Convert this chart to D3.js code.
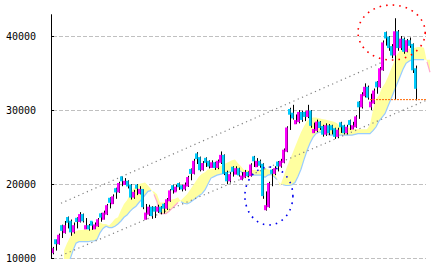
<!DOCTYPE html>
<html>
<head>
<meta charset="utf-8">
<script src="https://cdn.jsdelivr.net/npm/d3@7"></script>
<style>
html,body{margin:0;padding:0;background:#fff;}
svg{display:block;}
</style>
</head>
<body>
<svg id="chart" width="434" height="272"></svg>
<script>
// ---- data ----
const yTicks = [10000, 20000, 30000, 40000];
const opens = [
10800,12400,12000,14300,13500,15400,14900,13600,15300,15000,
15800,14000,14300,14900,14000,14400,15900,15300,16000,18000,
17400,19300,19000,20900,20000,20300,19800,18300,19800,18800,
19200,15300,16000,16800,16800,16400,16800,17200,16800,17800,
19700,19000,20000,19700,19400,19800,21900,21500,24000,23500,
22000,23400,23000,22300,22800,22300,23000,23800,21500,20500,
22200,21400,22000,20700,21000,21500,21200,23600,22400,23000,
22600,16600,17000,21800,21500,22900,22500,23000,24500,30000,
29500,28200,28500,29600,29600,29200,29800,27000,27300,28300,
27700,26800,27800,27800,27400,26500,28200,27800,27000,28500,
27500,27800,31000,30500,32000,33000,30500,31000,33700,33200,
35500,40400,39800,38500,37500,40500,38500,39500,38000,39300,
38800,35500];
const closes = [
11200,12000,13000,13800,14300,14900,13600,14300,15000,15800,
15100,14300,14000,14500,14400,15100,15600,16000,17000,17600,
18200,19000,20000,20500,20300,19800,18300,18800,19500,19200,
17000,16000,16800,15800,16400,16800,16300,16800,17800,19000,
19300,19500,19700,19400,19800,20800,21500,23000,23500,22000,
22700,23000,22500,22800,22300,23000,23800,21500,20500,21200,
21800,22000,21300,21000,21500,21200,22500,23200,23000,22600,
18500,17000,20000,21500,22000,22500,23000,24500,27500,29500,
29000,28500,29600,28800,29200,29800,28000,27300,28300,27700,
26800,27800,27000,27400,26500,27200,27800,27000,27600,28100,
27800,29000,30500,32000,33000,31800,31000,32500,33200,35500,
39000,39800,38500,37500,40500,38500,39500,38000,39300,38800,
35500,33000];
const highs = [
11500,12500,13300,14500,15000,15600,15200,14800,15500,16200,
16000,15400,14600,14900,14800,15400,16100,16400,17300,18200,
18600,19500,20300,21000,20800,20500,20000,19200,20000,19700,
19300,17300,17200,17000,17000,17200,17000,17400,18100,19300,
19900,19900,20200,19900,20200,21100,22100,23400,24300,23700,
23100,23600,23200,23200,23000,23300,24400,24000,21800,21600,
22400,22400,22200,21600,21900,21700,22800,23800,23500,23300,
22800,19000,20300,22000,22400,23100,23400,24800,27800,30300,
30700,29400,30000,29900,29800,30700,30000,28300,28700,28500,
28000,28200,28100,28000,27600,27600,28400,28000,28000,28700,
28400,29300,31200,32400,33600,33300,32200,32900,33900,35800,
39400,40600,40000,38900,42400,40800,40000,39800,39600,39800,
39000,36000];
const lows = [
10500,11000,11800,12700,13300,14000,13000,13300,14000,14800,
14800,13900,13700,13800,13900,14200,14900,15200,15800,16700,
17300,18000,18800,19700,19900,19400,17900,18000,18500,18600,
16600,15200,15700,15300,15400,16100,15900,16000,16500,17600,
18700,19000,19200,19000,19100,19600,20500,21300,22700,21700,
21800,22300,22100,22200,21900,22000,22700,21200,20000,20200,
21000,21300,21000,20500,20800,20900,21000,22300,22300,22200,
18000,16400,16800,19700,21200,21700,22200,22800,24300,27300,
28700,28100,28200,28400,28500,28900,27600,26900,27000,27300,
26400,26500,26600,26700,26100,26200,26900,26700,26700,27300,
27400,27600,28800,30200,31700,31400,30000,30800,32200,33000,
35300,38700,38000,37000,31400,38000,38100,37600,37800,38400,
35000,31300];

// Ichimoku cloud spans, starting at bar index 4, extending past the last bar
const spanStart = 4;
const spanA = [
11000,12000,12800,13400,13600,13800,13800,13900,13800,13900,
14200,14600,14800,14600,14600,14400,14800,15300,15500,16500,
17300,17800,18600,19300,19800,20000,20100,20200,19800,19300,
18600,17600,16000,16000,16000,16300,16700,17100,17500,17800,
18200,18600,19200,19800,20400,21000,21400,21600,22000,22000,
22100,22200,22400,22600,22800,23000,23200,23300,22800,22400,
21900,21900,21900,21900,21900,21900,22000,22200,22000,21800,
21500,20800,19700,20800,22000,23000,24000,25000,26000,27000,
27800,28500,28800,29000,29000,28900,28800,28700,28600,28500,
28400,28200,27800,27800,27700,27600,27500,27400,27400,27400,
27400,27400,28000,30000,31500,32000,33000,33600,34500,35500,
36500,37500,38000,38200,38200,38300,38300,38400,38500,38500,
38400,36500,35100];
const spanB = [
9000,9300,9800,11000,12000,12200,12200,12200,12200,12300,
12300,12500,13400,14000,14300,14100,14100,14300,14600,15000,
15500,15800,16300,16700,17000,17500,18000,18500,19000,19100,
19000,18600,17500,17500,17600,17800,17900,18000,18200,17600,
17400,17300,17500,17800,18100,18400,18700,19200,20000,20800,
21000,21200,21300,21400,21500,21600,21700,21800,21800,21700,
21200,21200,21200,21200,21200,21200,21200,20900,21200,21300,
21000,20600,20100,19900,19800,19800,19900,20200,21000,22000,
23300,24500,25500,26300,26800,27000,27000,27000,26700,26600,
26600,26600,26600,26600,26600,26600,26600,26700,26800,26800,
26800,26800,26800,27200,27700,28500,29000,29500,30500,31500,
32500,33500,34500,35500,36300,36600,36800,36800,36800,36800,
36800,36800,36800];

// annotations (bar index, price)
const upperTrend = [[3, 17400], [110, 36450]];
const lowerTrend = [[3, 10320], [125, 31350]];
const supportLine = [[106, 31400], [125, 31400]];
const redCircle = {i: 113.2, v: 40470, ri: 11.2, rv: 3720};
const blueCircle = {i: 72.3, v: 18380, ri: 8, rv: 3920};

// ---- chart ----
const svg = d3.select("#chart");
const x = d3.scaleLinear().domain([0, 126]).range([52, 430]);
const y = d3.scaleLinear().domain([10000, 43000]).range([258, 258 - 33000 * 0.0074]);

svg.append("defs").append("clipPath").attr("id", "plot")
  .append("rect").attr("x", 52).attr("y", 10).attr("width", 382).attr("height", 249);

// grid
svg.append("g").selectAll("line").data(yTicks).join("line")
  .attr("x1", 53).attr("x2", 426)
  .attr("y1", d => Math.round(y(d)) + 0.5).attr("y2", d => Math.round(y(d)) + 0.5)
  .attr("stroke", "#c0c0c0").attr("stroke-dasharray", "4,2");

// cloud
const cloud = spanA.map((a, k) => ({i: spanStart + k, A: a, B: spanB[k]}));
const plot = svg.append("g").attr("clip-path", "url(#plot)");
plot.append("path").datum(cloud)
  .attr("d", d3.area().x(d => x(d.i)).y0(d => y(d.B)).y1(d => y(d.A)))
  .attr("fill", "#ffffa0");
plot.append("path").datum(cloud)
  .attr("d", d3.line().defined(d => d.B <= d.A).x(d => x(d.i)).y(d => y(d.B)))
  .attr("fill", "none").attr("stroke", "#99ccff").attr("stroke-width", 1.2);
plot.append("path").datum(cloud)
  .attr("d", d3.line().defined(d => d.A < d.B).x(d => x(d.i)).y(d => y(d.A)))
  .attr("fill", "none").attr("stroke", "#ffaacc").attr("stroke-width", 1.2);

// trend lines
const tl = d3.line().x(d => x(d[0])).y(d => y(d[1]));
[upperTrend, lowerTrend].forEach(t => {
  plot.append("path").datum(t).attr("d", tl)
    .attr("fill", "none").attr("stroke", "#808080").attr("stroke-width", 1.2)
    .attr("stroke-dasharray", "1.2,3.5");
});

// candles
const bars = opens.map((o, i) => ({i, o, c: closes[i], h: highs[i], l: lows[i]}));
const cg = plot.append("g");
cg.selectAll("line").data(bars).join("line")
  .attr("x1", d => Math.round(x(d.i)) + 1.5).attr("x2", d => Math.round(x(d.i)) + 1.5)
  .attr("y1", d => y(d.h)).attr("y2", d => y(d.l))
  .attr("stroke", "#000").attr("stroke-width", 1);
cg.selectAll("rect").data(bars).join("rect")
  .attr("x", d => Math.round(x(d.i)) - 1)
  .attr("width", 2.6)
  .attr("y", d => y(Math.max(d.o, d.c)) - 1)
  .attr("height", d => Math.max(2, Math.abs(y(d.o) - y(d.c)) + 2))
  .attr("fill", d => d.c >= d.o ? "#ff00ff" : "#00ccff");

// support line
svg.append("path").datum(supportLine).attr("d", tl)
  .attr("fill", "none").attr("stroke", "#ff6600").attr("stroke-width", 1)
  .attr("stroke-dasharray", "2,1");

// circles
[[redCircle, "#ff0000"], [blueCircle, "#0000ee"]].forEach(([c, col]) => {
  svg.append("ellipse")
    .attr("cx", x(c.i)).attr("cy", y(c.v))
    .attr("rx", x(c.i + c.ri) - x(c.i)).attr("ry", y(c.v) - y(c.v + c.rv))
    .attr("fill", "none").attr("stroke", col).attr("stroke-width", 1.6)
    .attr("stroke-dasharray", "1.6,5");
});

// axis
const axis = d3.axisLeft(y).tickValues(yTicks).tickSize(-3).tickSizeOuter(0).tickPadding(15)
  .tickFormat(d3.format("d"));
const ag = svg.append("g").attr("transform", "translate(51,0)").call(axis);
ag.select(".domain").attr("stroke", "#000");
ag.selectAll(".tick line").attr("stroke", "#000");
ag.selectAll("text").attr("font-family", "DejaVu Sans Mono").attr("font-size", 10).attr("fill", "#000");
</script>
</body>
</html>
